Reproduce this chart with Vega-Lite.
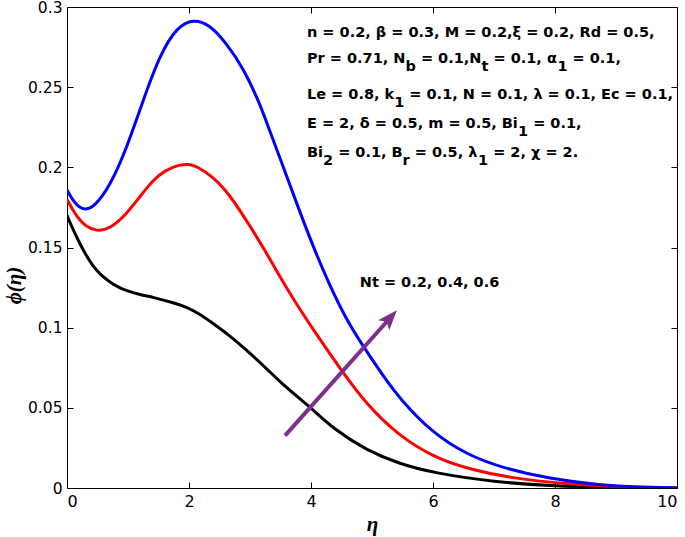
{
  "$schema": "https://vega.github.io/schema/vega-lite/v6.json",
  "width": 610,
  "height": 481,
  "autosize": {"type": "none"},
  "padding": {"left": 67, "top": 7, "right": 8, "bottom": 49},
  "background": "white",
  "config": {
    "view": {"stroke": null},
    "axis": {
      "grid": false,
      "domainColor": "#000000",
      "domainWidth": 1,
      "tickColor": "#000000",
      "tickWidth": 1,
      "tickSize": -6,
      "labelColor": "#000000",
      "labelFont": "DejaVu Sans",
      "labelFontSize": 16,
      "labelPadding": 11
    }
  },
  "datasets": {
    "curves": [
      {"Nt": "0.2", "eta": 0, "phi": 0.170},
      {"Nt": "0.2", "eta": 0.1, "phi": 0.161},
      {"Nt": "0.2", "eta": 0.21, "phi": 0.1525},
      {"Nt": "0.2", "eta": 0.3, "phi": 0.146},
      {"Nt": "0.2", "eta": 0.43, "phi": 0.138},
      {"Nt": "0.2", "eta": 0.55, "phi": 0.133},
      {"Nt": "0.2", "eta": 0.7, "phi": 0.1285},
      {"Nt": "0.2", "eta": 0.85, "phi": 0.125},
      {"Nt": "0.2", "eta": 0.98, "phi": 0.123},
      {"Nt": "0.2", "eta": 1.2, "phi": 0.1205},
      {"Nt": "0.2", "eta": 1.41, "phi": 0.119},
      {"Nt": "0.2", "eta": 1.7, "phi": 0.116},
      {"Nt": "0.2", "eta": 1.96, "phi": 0.113},
      {"Nt": "0.2", "eta": 2.2, "phi": 0.108},
      {"Nt": "0.2", "eta": 2.4, "phi": 0.1025},
      {"Nt": "0.2", "eta": 2.67, "phi": 0.095},
      {"Nt": "0.2", "eta": 2.94, "phi": 0.086},
      {"Nt": "0.2", "eta": 3.16, "phi": 0.0785},
      {"Nt": "0.2", "eta": 3.3, "phi": 0.0733},
      {"Nt": "0.2", "eta": 3.5, "phi": 0.066},
      {"Nt": "0.2", "eta": 3.82, "phi": 0.0556},
      {"Nt": "0.2", "eta": 4.0, "phi": 0.050},
      {"Nt": "0.2", "eta": 4.37, "phi": 0.0368},
      {"Nt": "0.2", "eta": 4.91, "phi": 0.0235},
      {"Nt": "0.2", "eta": 5.46, "phi": 0.0149},
      {"Nt": "0.2", "eta": 6.0, "phi": 0.0095},
      {"Nt": "0.2", "eta": 7.0, "phi": 0.0037},
      {"Nt": "0.2", "eta": 8.0, "phi": 0.0011},
      {"Nt": "0.2", "eta": 9.0, "phi": 0.0003},
      {"Nt": "0.2", "eta": 10.0, "phi": 0.0},
      {"Nt": "0.4", "eta": 0, "phi": 0.180},
      {"Nt": "0.4", "eta": 0.1, "phi": 0.173},
      {"Nt": "0.4", "eta": 0.2, "phi": 0.1675},
      {"Nt": "0.4", "eta": 0.3, "phi": 0.1635},
      {"Nt": "0.4", "eta": 0.48, "phi": 0.160},
      {"Nt": "0.4", "eta": 0.7, "phi": 0.1615},
      {"Nt": "0.4", "eta": 0.98, "phi": 0.171},
      {"Nt": "0.4", "eta": 1.2, "phi": 0.182},
      {"Nt": "0.4", "eta": 1.41, "phi": 0.192},
      {"Nt": "0.4", "eta": 1.6, "phi": 0.198},
      {"Nt": "0.4", "eta": 1.85, "phi": 0.2018},
      {"Nt": "0.4", "eta": 2.0, "phi": 0.202},
      {"Nt": "0.4", "eta": 2.12, "phi": 0.2008},
      {"Nt": "0.4", "eta": 2.4, "phi": 0.194},
      {"Nt": "0.4", "eta": 2.67, "phi": 0.1827},
      {"Nt": "0.4", "eta": 2.94, "phi": 0.167},
      {"Nt": "0.4", "eta": 3.22, "phi": 0.150},
      {"Nt": "0.4", "eta": 3.49, "phi": 0.1316},
      {"Nt": "0.4", "eta": 3.76, "phi": 0.1148},
      {"Nt": "0.4", "eta": 4.04, "phi": 0.0985},
      {"Nt": "0.4", "eta": 4.48, "phi": 0.0744},
      {"Nt": "0.4", "eta": 4.91, "phi": 0.052},
      {"Nt": "0.4", "eta": 5.46, "phi": 0.032},
      {"Nt": "0.4", "eta": 6.0, "phi": 0.0195},
      {"Nt": "0.4", "eta": 6.55, "phi": 0.012},
      {"Nt": "0.4", "eta": 7.37, "phi": 0.0056},
      {"Nt": "0.4", "eta": 8.19, "phi": 0.0025},
      {"Nt": "0.4", "eta": 9.0, "phi": 0.0008},
      {"Nt": "0.4", "eta": 10.0, "phi": 0.0},
      {"Nt": "0.6", "eta": 0, "phi": 0.186},
      {"Nt": "0.6", "eta": 0.1, "phi": 0.179},
      {"Nt": "0.6", "eta": 0.2, "phi": 0.175},
      {"Nt": "0.6", "eta": 0.3, "phi": 0.1735},
      {"Nt": "0.6", "eta": 0.45, "phi": 0.1755},
      {"Nt": "0.6", "eta": 0.7, "phi": 0.188},
      {"Nt": "0.6", "eta": 0.98, "phi": 0.212},
      {"Nt": "0.6", "eta": 1.25, "phi": 0.242},
      {"Nt": "0.6", "eta": 1.52, "phi": 0.270},
      {"Nt": "0.6", "eta": 1.8, "phi": 0.2875},
      {"Nt": "0.6", "eta": 2.07, "phi": 0.2925},
      {"Nt": "0.6", "eta": 2.34, "phi": 0.289},
      {"Nt": "0.6", "eta": 2.61, "phi": 0.2775},
      {"Nt": "0.6", "eta": 2.89, "phi": 0.262},
      {"Nt": "0.6", "eta": 3.16, "phi": 0.240},
      {"Nt": "0.6", "eta": 3.33, "phi": 0.222},
      {"Nt": "0.6", "eta": 3.5, "phi": 0.205},
      {"Nt": "0.6", "eta": 3.76, "phi": 0.178},
      {"Nt": "0.6", "eta": 4.04, "phi": 0.150},
      {"Nt": "0.6", "eta": 4.31, "phi": 0.126},
      {"Nt": "0.6", "eta": 4.58, "phi": 0.105},
      {"Nt": "0.6", "eta": 4.86, "phi": 0.088},
      {"Nt": "0.6", "eta": 5.2, "phi": 0.069},
      {"Nt": "0.6", "eta": 5.46, "phi": 0.0555},
      {"Nt": "0.6", "eta": 6.0, "phi": 0.034},
      {"Nt": "0.6", "eta": 6.55, "phi": 0.021},
      {"Nt": "0.6", "eta": 7.1, "phi": 0.0129},
      {"Nt": "0.6", "eta": 7.92, "phi": 0.0056},
      {"Nt": "0.6", "eta": 8.74, "phi": 0.0018},
      {"Nt": "0.6", "eta": 9.4, "phi": 0.0006},
      {"Nt": "0.6", "eta": 10.0, "phi": 0.0}
    ],
    "arrow": [
      {"eta": 3.574, "phi": 0.0327},
      {"eta": 5.30, "phi": 0.1062}
    ],
    "arrowhead": [
      {"eta": 5.30, "phi": 0.1062}
    ],
    "ntlabel": [
      {"eta": 4.80, "phi": 0.1254, "label": "Nt = 0.2, 0.4, 0.6"}
    ],
    "notes": [
      {"role": "main", "eta": 3.934, "phi": 0.28125, "label": "n = 0.2, β = 0.3, M = 0.2,ξ = 0.2, Rd = 0.5,"},
      {"role": "main", "eta": 3.934, "phi": 0.265, "label": "Pr = 0.71, N"},
      {"role": "sub", "eta": 5.549, "phi": 0.265, "label": "b"},
      {"role": "main", "eta": 5.802, "phi": 0.265, "label": "= 0.1,N"},
      {"role": "sub", "eta": 6.795, "phi": 0.265, "label": "t"},
      {"role": "main", "eta": 6.991, "phi": 0.265, "label": "= 0.1, α"},
      {"role": "sub", "eta": 8.039, "phi": 0.265, "label": "1"},
      {"role": "main", "eta": 8.288, "phi": 0.265, "label": "= 0.1,"},
      {"role": "main", "eta": 3.934, "phi": 0.2425, "label": "Le = 0.8, k"},
      {"role": "sub", "eta": 5.364, "phi": 0.2425, "label": "1"},
      {"role": "main", "eta": 5.612, "phi": 0.2425, "label": "= 0.1, N = 0.1, λ = 0.1, Ec = 0.1,"},
      {"role": "main", "eta": 3.934, "phi": 0.2244, "label": "E = 2, δ = 0.5, m = 0.5, Bi"},
      {"role": "sub", "eta": 7.393, "phi": 0.2244, "label": "1"},
      {"role": "main", "eta": 7.642, "phi": 0.2244, "label": "= 0.1,"},
      {"role": "main", "eta": 3.934, "phi": 0.2066, "label": "Bi"},
      {"role": "sub", "eta": 4.197, "phi": 0.2066, "label": "2"},
      {"role": "main", "eta": 4.445, "phi": 0.2066, "label": "= 0.1, B"},
      {"role": "sub", "eta": 5.502, "phi": 0.2066, "label": "r"},
      {"role": "main", "eta": 5.702, "phi": 0.2066, "label": "= 0.5, λ"},
      {"role": "sub", "eta": 6.738, "phi": 0.2066, "label": "1"},
      {"role": "main", "eta": 6.986, "phi": 0.2066, "label": "= 2, χ = 2."}
    ]
  },
  "layer": [
    {
      "data": {"name": "curves"},
      "mark": {"type": "line", "strokeWidth": 3, "interpolate": "basis", "clip": true},
      "encoding": {
        "x": {
          "field": "eta", "type": "quantitative",
          "scale": {"domain": [0, 10], "nice": false, "zero": false},
          "axis": {
            "orient": "bottom",
            "values": [0, 2, 4, 6, 8, 10],
            "format": "d",
            "title": "η",
            "titleFont": "Liberation Serif",
            "titleFontSize": 21,
            "titleFontWeight": "bold",
            "titleFontStyle": "italic",
            "titleColor": "#000000",
            "titlePadding": 4
          }
        },
        "y": {
          "field": "phi", "type": "quantitative",
          "scale": {"domain": [0, 0.3], "nice": false, "zero": false},
          "axis": {
            "orient": "left",
            "values": [0, 0.05, 0.1, 0.15, 0.2, 0.25, 0.3],
            "format": "~g",
            "labelFontSize": 15.5,
            "title": "ϕ(η)",
            "titleFont": "Liberation Serif",
            "titleFontSize": 21,
            "titleFontWeight": "bold",
            "titleFontStyle": "italic",
            "titleColor": "#000000",
            "titleX": -53,
            "titleY": 278,
            "titleAlign": "center",
            "titleBaseline": "middle",
            "titleAngle": -90
          }
        },
        "color": {
          "field": "Nt", "type": "nominal",
          "scale": {"domain": ["0.2", "0.4", "0.6"], "range": ["#000000", "#FF0000", "#0000FF"]},
          "legend": null
        }
      }
    },
    {
      "data": {"name": "curves"},
      "mark": {"type": "point", "opacity": 0},
      "encoding": {
        "x": {
          "field": "eta", "type": "quantitative",
          "axis": {"orient": "top", "values": [0, 2, 4, 6, 8, 10], "labels": false, "title": null}
        },
        "y": {
          "field": "phi", "type": "quantitative",
          "axis": {"orient": "right", "values": [0, 0.05, 0.1, 0.15, 0.2, 0.25, 0.3], "labels": false, "title": null}
        }
      }
    },
    {
      "data": {"name": "arrow"},
      "mark": {"type": "line", "color": "#7E2F8E", "strokeWidth": 4},
      "encoding": {
        "x": {"field": "eta", "type": "quantitative", "axis": null},
        "y": {"field": "phi", "type": "quantitative", "axis": null}
      }
    },
    {
      "data": {"name": "arrowhead"},
      "mark": {"type": "point", "shape": "M0,-1L0.75,1L0,0.55L-0.75,1Z", "size": 400, "angle": 42, "filled": true, "color": "#7E2F8E", "opacity": 1},
      "encoding": {
        "x": {"field": "eta", "type": "quantitative", "axis": null},
        "y": {"field": "phi", "type": "quantitative", "axis": null}
      }
    },
    {
      "data": {"name": "ntlabel"},
      "mark": {"type": "text", "align": "left", "baseline": "alphabetic", "font": "DejaVu Sans", "fontSize": 14.5, "fontWeight": "bold", "color": "#000000"},
      "encoding": {
        "x": {"field": "eta", "type": "quantitative", "axis": null},
        "y": {"field": "phi", "type": "quantitative", "axis": null},
        "text": {"field": "label"}
      }
    },
    {
      "data": {"name": "notes"},
      "transform": [{"filter": "datum.role === 'main'"}],
      "mark": {"type": "text", "align": "left", "baseline": "alphabetic", "font": "DejaVu Sans", "fontSize": 14.5, "fontWeight": "bold", "color": "#000000"},
      "encoding": {
        "x": {"field": "eta", "type": "quantitative", "axis": null},
        "y": {"field": "phi", "type": "quantitative", "axis": null},
        "text": {"field": "label"}
      }
    },
    {
      "data": {"name": "notes"},
      "transform": [{"filter": "datum.role === 'sub'"}],
      "mark": {"type": "text", "align": "left", "baseline": "alphabetic", "dy": 8, "font": "DejaVu Sans", "fontSize": 14.5, "fontWeight": "bold", "color": "#000000"},
      "encoding": {
        "x": {"field": "eta", "type": "quantitative", "axis": null},
        "y": {"field": "phi", "type": "quantitative", "axis": null},
        "text": {"field": "label"}
      }
    }
  ],
  "resolve": {"axis": {"x": "independent", "y": "independent"}}
}
